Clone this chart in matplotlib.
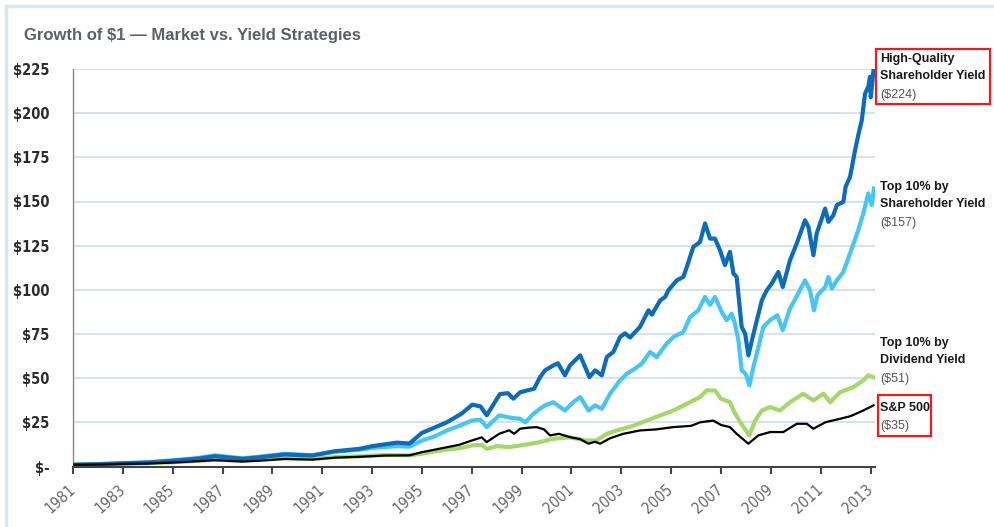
import matplotlib
matplotlib.use("Agg")
import matplotlib.pyplot as plt
import matplotlib.font_manager as fm
from matplotlib.patches import Rectangle
from matplotlib.lines import Line2D

# growth of $1
hq_years = [1981, 1982, 1983, 1984, 1985, 1986, 1986.7, 1987.8, 1988.5, 1989.5, 1990.6, 1991.5,
            1992.5, 1993.0, 1994.0, 1994.5, 1995.0, 1995.5, 1996.0, 1996.6, 1997.02, 1997.35, 1997.6,
            1998.13, 1998.45, 1998.67, 1998.94, 1999.21, 1999.5, 1999.74, 1999.94, 2000.27, 2000.46,
            2000.74, 2000.94, 2001.35, 2001.55, 2001.72, 2001.95, 2002.22, 2002.42, 2002.68, 2002.95,
            2003.15, 2003.35, 2003.75, 2004.09, 2004.23, 2004.56, 2004.76, 2004.89, 2005.23, 2005.49,
            2005.63, 2005.89, 2006.16, 2006.36, 2006.56, 2006.76, 2006.96, 2007.16, 2007.36, 2007.5,
            2007.63, 2007.83, 2007.97, 2008.1, 2008.24, 2008.44, 2008.64, 2008.84, 2009.04, 2009.3,
            2009.48, 2009.77, 2010.04, 2010.37, 2010.51, 2010.71, 2010.84, 2011.18, 2011.31, 2011.51,
            2011.65, 2011.91, 2012.0, 2012.18, 2012.38, 2012.51, 2012.65, 2012.78, 2012.91, 2012.98,
            2013.01, 2013.12]
hq_vals = [1.0, 1.3, 1.8, 2.2, 3.2, 4.4, 5.8, 4.3, 5.2, 6.8, 6.2, 8.6,
           10.0, 11.5, 13.5, 13.0, 19.0, 22.0, 25.0, 30.0, 35.0, 34.0, 29.0,
           41.0, 41.5, 38.4, 42.0, 43.0, 44.0, 50.6, 54.4, 57.2, 58.4,
           51.6, 57.2, 62.9, 56.3, 50.6, 54.4, 51.6, 62.0, 64.8, 73.3,
           75.4, 73.0, 79.0, 88.4, 86.0, 94.0, 96.0, 99.8, 105.4, 107.3,
           113.0, 124.3, 127.1, 137.6, 129.0, 129.0, 122.4, 114.0, 121.5, 109.2,
           107.3, 79.0, 75.2, 62.9, 71.4, 82.8, 94.1, 99.8, 103.6, 110.1,
           101.6, 116.8, 126.2, 139.4, 135.6, 119.6, 131.9, 146.0, 138.5, 142.3,
           148.0, 149.8, 158.3, 164.0, 179.0, 187.6, 196.0, 211.0, 215.0, 220.6,
           209.0, 224.4]

top_sy_years = [1981, 1982, 1983, 1984, 1985, 1986, 1986.7, 1987.8, 1988.5, 1989.5, 1990.6, 1991.5,
                1992.5, 1993.0, 1994.0, 1994.5, 1995.0, 1995.5, 1996.0, 1996.5, 1997.0, 1997.35, 1997.6,
                1998.1, 1998.6, 1998.94, 1999.15, 1999.48, 1999.74, 1999.94, 2000.27, 2000.74, 2001.07,
                2001.35, 2001.69, 2001.95, 2002.22, 2002.55, 2002.95, 2003.22, 2003.55, 2003.82, 2004.15,
                2004.42, 2004.82, 2005.09, 2005.49, 2005.76, 2006.09, 2006.36, 2006.56, 2006.76, 2007.03,
                2007.23, 2007.43, 2007.56, 2007.7, 2007.83, 2007.99, 2008.14, 2008.3, 2008.5, 2008.7,
                2008.97, 2009.26, 2009.48, 2009.77, 2010.1, 2010.37, 2010.57, 2010.73, 2010.87, 2011.18,
                2011.31, 2011.45, 2011.65, 2011.91, 2012.25, 2012.51, 2012.71, 2012.91, 2013.05, 2013.14]
top_sy_vals = [1.0, 1.3, 1.9, 2.4, 3.5, 4.8, 6.3, 4.6, 5.6, 7.2, 6.3, 8.4,
               9.5, 10.5, 11.5, 11.2, 14.7, 17.0, 20.4, 23.0, 26.0, 26.5, 22.3,
               28.9, 27.5, 27.0, 25.0, 29.9, 32.7, 34.6, 36.4, 31.7, 36.4,
               39.3, 31.7, 34.6, 32.7, 41.2, 48.7, 52.5, 55.4, 58.2, 64.8,
               62.0, 69.5, 73.3, 76.1, 84.6, 88.4, 96.0, 91.5, 96.0, 87.5,
               82.8, 86.5, 80.9, 71.4, 54.4, 52.5, 45.9, 56.3, 67.6, 79.0,
               82.8, 85.6, 77.1, 89.4, 97.9, 105.4, 99.8, 88.4, 96.9, 101.6,
               107.3, 100.7, 105.4, 110.1, 123.4, 133.8, 143.2, 154.6, 148.0, 157.4]

top_dy_years = [1981, 1982, 1983, 1984, 1985, 1986, 1986.7, 1987.8, 1988.5, 1989.5, 1990.6, 1991.5,
                1992.5, 1993.5, 1994.5, 1995.0, 1995.5, 1996.0, 1996.5, 1997.0, 1997.4, 1997.6, 1998.0,
                1998.5, 1998.94, 1999.74, 2000.27, 2000.94, 2001.6, 2002.0, 2002.42, 2002.82, 2003.48,
                2004.02, 2004.56, 2005.09, 2005.63, 2006.16, 2006.43, 2006.76, 2007.0, 2007.36, 2007.5,
                2007.77, 2008.14, 2008.37, 2008.64, 2008.97, 2009.37, 2009.77, 2010.3, 2010.71, 2011.11,
                2011.38, 2011.78, 2012.31, 2012.71, 2012.91, 2013.12]
top_dy_vals = [1.0, 1.2, 1.5, 1.9, 2.4, 3.2, 3.8, 3.3, 3.9, 4.6, 4.3, 5.3,
               5.8, 6.5, 6.4, 7.2, 8.5, 9.5, 10.3, 11.9, 12.3, 10.0, 11.5,
               11.0, 11.9, 13.8, 15.7, 16.5, 14.7, 14.7, 18.5, 20.4, 23.0,
               26.0, 28.9, 31.7, 35.5, 39.3, 43.1, 43.0, 38.4, 36.4, 31.7,
               25.1, 17.6, 26.0, 31.7, 33.6, 31.7, 36.4, 41.2, 37.4, 41.2,
               36.4, 42.1, 44.9, 48.7, 51.6, 50.6]

sp500_years = [1981, 1982, 1983, 1984, 1985, 1986, 1986.7, 1987.8, 1988.5, 1989.5, 1990.6, 1991.5,
               1992.5, 1993.5, 1994.5, 1995.0, 1995.5, 1996.0, 1996.5, 1997.0, 1997.4, 1997.6, 1998.1,
               1998.5, 1998.7, 1998.94, 1999.3, 1999.6, 1999.9, 2000.14, 2000.5, 2000.94, 2001.35,
               2001.68, 2001.95, 2002.15, 2002.55, 2003.08, 2003.75, 2004.4, 2005.09, 2005.8, 2006.16,
               2006.69, 2007.0, 2007.36, 2007.63, 2008.1, 2008.5, 2008.97, 2009.5, 2010.04, 2010.44,
               2010.71, 2011.2, 2011.78, 2012.2, 2012.71, 2013.12]
sp500_vals = [1.0, 1.1, 1.5, 1.7, 2.2, 3.0, 3.6, 2.8, 3.3, 4.3, 3.9, 5.0,
              5.5, 6.2, 6.3, 8.1, 9.5, 10.9, 12.3, 14.7, 16.5, 13.8, 18.5,
              20.5, 18.5, 21.4, 22.0, 22.3, 21.0, 17.6, 18.5, 16.6, 15.5,
              12.9, 14.0, 12.9, 16.0, 18.5, 20.4, 21.0, 22.3, 23.0, 25.0,
              26.0, 23.5, 22.3, 18.5, 12.9, 17.6, 19.5, 19.5, 24.2, 24.2,
              21.4, 25.1, 27.0, 28.5, 31.7, 34.6]

names = [["High-Quality", "Shareholder Yield"], ["Top 10% by", "Shareholder Yield"],
         ["Top 10% by", "Dividend Yield"], ["S&P 500"]]
year_ticks = list(range(1981, 2014, 2))
value_ticks = [0, 25, 50, 75, 100, 125, 150, 175, 200, 225]


def is_bold(w):
    if isinstance(w, str):
        return w in ("bold", "heavy", "black", "demibold", "semibold", "extra bold")
    return w >= 600


def narrow_font(bold, size):
    # look for a condensed / narrow face, else fall back to Liberation Sans a bit smaller
    for f in fm.fontManager.ttflist:
        cond = ("Narrow" in f.name or "Condensed" in f.name
                or f.stretch in ("condensed", "semi-condensed", "extra-condensed"))
        if cond and f.style == "normal" and is_bold(f.weight) == bold:
            return fm.FontProperties(fname=f.fname, size=size)
    return fm.FontProperties(family="Liberation Sans", weight="bold" if bold else "normal",
                             size=size * 0.86)


W, H = 994, 527
fig = plt.figure(figsize=(W / 100, H / 100), dpi=100)
ax = fig.add_axes([73 / W, 1 - 466.5 / H, (875 - 73) / W, (466.5 - 69) / H])

ax.plot(top_sy_years, top_sy_vals, color="#45c6f3", lw=3.0, solid_joinstyle="round", zorder=3)
ax.plot(hq_years, hq_vals, color="#0b6cbc", lw=3.0, solid_joinstyle="round", zorder=4)
ax.plot(top_dy_years, top_dy_vals, color="#a5d86b", lw=3.0, solid_joinstyle="round", zorder=3)
ax.plot(sp500_years, sp500_vals, color="#000000", lw=1.6, solid_joinstyle="round", zorder=5)

ax.set_xlim(1981, 2013.18)
ax.set_ylim(0, 225)
ax.set_yticks(value_ticks)
ax.set_yticklabels(["$-" if v == 0 else f"${v}" for v in value_ticks],
                   fontproperties=narrow_font(True, 10.5), color="#2b2b2b")
ax.set_xticks(year_ticks)
ax.set_xticklabels([str(y) for y in year_ticks], fontproperties=narrow_font(False, 11),
                   color="#666666", rotation=42, ha="right", va="center", rotation_mode="anchor")
ax.tick_params(axis="y", length=0, pad=17)
ax.tick_params(axis="x", length=5, width=1.5, color="#444444", pad=10)
ax.grid(axis="y", color="#d9e1ea", lw=1.5)
ax.set_axisbelow(True)
for s in ["top", "right"]:
    ax.spines[s].set_visible(False)
ax.spines["left"].set_color("#888888")
ax.spines["left"].set_linewidth(1.0)
ax.spines["bottom"].set_color("#444444")
ax.spines["bottom"].set_linewidth(1.5)
ax.spines["bottom"].set_zorder(6)

# outer panel border
fig.add_artist(Line2D([6 / W, 6 / W], [0, 1 - 6 / H], color="#dde4eb", lw=2.5))
fig.add_artist(Line2D([6 / W, 1], [1 - 6 / H, 1 - 6 / H], color="#dde4eb", lw=2.5))

fig.text(24 / W, 1 - 40 / H, "Growth of \\$1 \u2014 Market vs. Yield Strategies",
         family=["Liberation Sans", "DejaVu Sans"], fontsize=12, fontweight="bold",
         color="#5b6068", va="baseline")

# end labels (Arial-like face so the two-line names fit in the margin)
lab_family = ["Liberation Sans", "DejaVu Sans"]
last_vals = [hq_vals[-1], top_sy_vals[-1], top_dy_vals[-1], sp500_vals[-1]]
label_tops = [59, 187, 343, 408]
for lines, val, top in zip(names, last_vals, label_tops):
    y = top
    for ln in lines:
        fig.text(880 / W, 1 - y / H, ln, family=lab_family, fontsize=9, fontweight="bold",
                 color="#1a1a1a", va="center")
        y += 17.3
    fig.text(880 / W, 1 - (y + 1) / H, f"(\\${val:.0f})", family=lab_family, fontsize=9,
             color="#555555", va="center")

for x0, y0, x1, y1 in [(876, 49, 990, 104), (878, 395, 931, 436)]:
    fig.add_artist(Rectangle((x0 / W, 1 - y1 / H), (x1 - x0) / W, (y1 - y0) / H,
                             fill=False, edgecolor="#ee1c1c", lw=1.6))

fig.savefig("out.png", dpi=100)
